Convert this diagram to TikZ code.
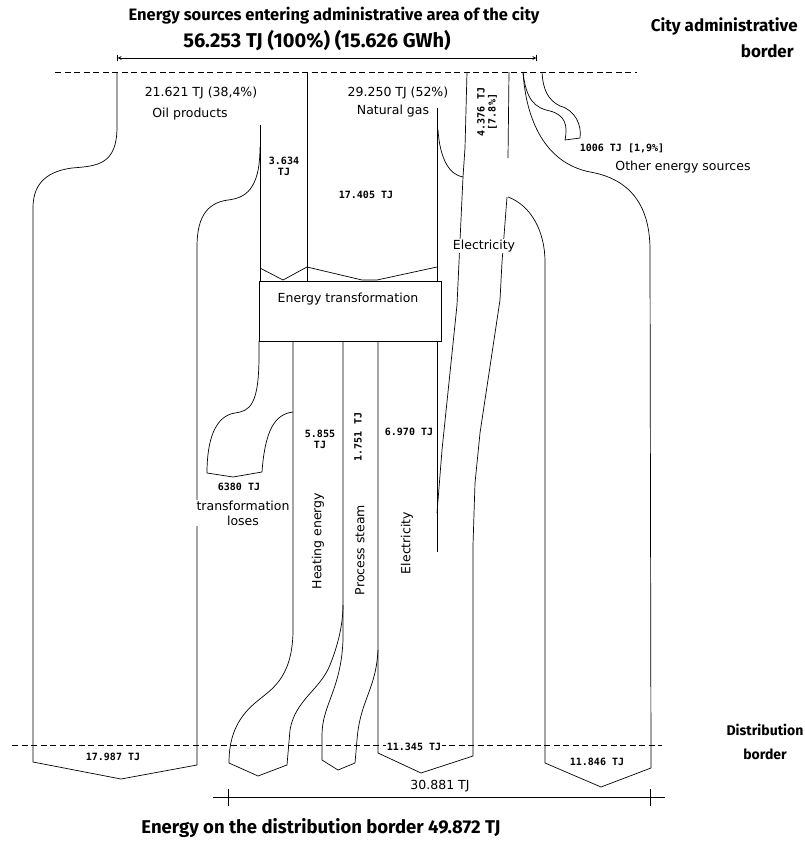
\documentclass[tikz,border=0pt]{standalone}
\usepackage{fontspec}
\setmainfont{DejaVu Sans}
\newfontfamily\titlefont{Fira Sans}
\newfontfamily\pixfont{DejaVu Sans Mono}
\usetikzlibrary{positioning}
\begin{document}
\begin{tikzpicture}[x=1pt, y=-1pt, line width=0.7pt]
        \tikzstyle{border}=[dash pattern=on 6pt off 3.5pt]
        \tikzstyle{heading}=[font=\titlefont\bfseries\fontsize{16.5}{19}\selectfont, align=center, inner sep=1pt]
        \tikzstyle{txt}=[font=\fontsize{12.5}{15}\selectfont, inner sep=1pt, align=center]
        \tikzstyle{val}=[font=\pixfont\bfseries\fontsize{10}{11}\selectfont, inner sep=1pt, align=center]

        \useasboundingbox (0,0) rectangle (805,841);

        \node (trafo)[draw, anchor=north west, minimum width=182pt, minimum height=60pt, inner sep=0pt] at (259,281) {};

        \draw[border] (55,72) -- (637,72);
        \draw[border] (12,745) -- (662,745);

        \draw (117,72) -- (117,127) .. controls (117,165) and (97,166) .. (72,168) .. controls (42,172) and (33,188) .. (33,208) -- (33,762) -- (121,779) -- (197,765) -- (197,247) .. controls (197,220) and (205,203) .. (228,200) .. controls (245,198) and (260,190) .. (260,147);
        \draw (260,125) -- (260,281);
        \draw (307,72) -- (307,281);
        \draw (260,268) -- (283,280) -- (307,267) -- (362,280) -- (377,280) -- (437,267);

        \draw (437,108) -- (437,281);
        \draw (438,130) .. controls (440,160) and (450,175) .. (463,177);

        \draw (467,72) -- (465,148) -- (463,177) -- (459,262) -- (457,305) -- (442,450) -- (437,513);
        \draw (509,72) -- (508,158);
        \draw (507,197) -- (502,262) -- (500,300) -- (480,433) -- (475,483) -- (473,545) -- (473,756);

        \draw (508,197) .. controls (530,205) and (545,230) .. (545,262) -- (545,763) -- (601,787) -- (651,768) -- (650,250) .. controls (650,200) and (625,178) .. (590,172) .. controls (545,163) and (526,120) .. (523,72);
        \draw (523,72) .. controls (526,100) and (535,108) .. (550,111) .. controls (565,115) and (568,125) .. (565,140) -- (580,138) .. controls (582,125) and (575,110) .. (560,106) .. controls (548,100) and (543,90) .. (542,72);

        \draw (259,341) -- (259,355) .. controls (259,405) and (250,411) .. (235,413) .. controls (215,416) and (207,440) .. (207,473) -- (233,477) -- (262,472) .. controls (265,430) and (275,414) .. (293,412);
        \draw (293,341) -- (293,632) .. controls (292,680) and (270,690) .. (255,703) .. controls (235,720) and (229,740) .. (229,763) -- (258,776) -- (287,765) -- (290,730) .. controls (295,700) and (320,690) .. (330,665) .. controls (340,640) and (343,620) .. (343,605);
        \draw (343,341) -- (343,640) .. controls (341,690) and (322,705) .. (322,735) -- (322,760) -- (338,770) -- (355,763) -- (357,740) .. controls (360,700) and (376,690) .. (378,650);
        \draw (378,341) -- (378,753) -- (421,773) -- (473,756);
        \draw (437,341) -- (437,552);

        \coordinate (srcl) at (117,58);
        \coordinate (srcr) at (537,58);
        \draw[|<->|, >=stealth] (srcl) -- (srcr);
        \coordinate (distl) at (213,797);
        \coordinate (distr) at (665,797);
        \draw (distl) -- (distr);
        \draw (228,789) -- (228,806);
        \draw (650,789) -- (650,806);

        \node (srctitle)[heading] at (334,16) {Energy sources entering administrative area of the city};
        \node (srctotal)[heading, font=\titlefont\bfseries\fontsize{20}{22}\selectfont] at (317,41) {56.253 TJ (100\%) (15.626 GWh)};
        \node (cityborder)[heading, anchor=east, align=right, font=\titlefont\bfseries\fontsize{17}{26}\selectfont] at (799,38) {City administrative\\border\hspace*{4pt}};
        \node (distborder)[heading, font=\titlefont\bfseries\fontsize{14}{24}\selectfont] at (765,742) {Distribution\\border};
        \node (disttotal)[heading, font=\titlefont\bfseries\fontsize{18.5}{21}\selectfont] at (321,828) {Energy on the distribution border 49.872 TJ};

        \node (oilval)[txt] at (201,93) {21.621 TJ (38,4\%)};
        \node (oil)[txt] at (190,114) {Oil products};
        \node (oiltrafo)[val] at (284,166) {3.634\\TJ};
        \node (gasval)[txt] at (398,93) {29.250 TJ (52\%)};
        \node (gas)[txt] at (393,111) {Natural gas};
        \node (gastrafo)[val] at (366,195) {17.405 TJ};
        \node (elval)[val, rotate=90] at (487,112) {4.376 TJ\\{[}7.8\%]};
        \node (otherval)[val] at (622,148) {1006 TJ [1,9\%]};
        \node (other)[txt] at (683,167) {Other energy sources};
        \node (elin)[txt, fill=white] at (484,246) {Electricity};
        \node (trafotext)[txt] at (348,299) {Energy transformation};

        \node (lossval)[val] at (239,487) {6380 TJ};
        \node (loss)[txt, fill=white] at (243,513) {transformation\\loses};
        \node (heatval)[val] at (320,439) {5.855\\TJ};
        \node (steamval)[val, rotate=90] at (358,437) {1.751 TJ};
        \node (elout)[val] at (409,432) {6.970 TJ};
        \node (heat)[txt, rotate=90] at (318,541) {Heating energy};
        \node (steam)[txt, rotate=90] at (360,550) {Process steam};
        \node (elec)[txt, rotate=90] at (407,543) {Electricity};

        \node (oildist)[val] at (113,757) {17.987 TJ};
        \node (eldist)[val, fill=white] at (414,747) {11.345 TJ};
        \node (rightdist)[val] at (597,762) {11.846 TJ};
        \node (distsum)[txt] at (440,786) {30.881 TJ};
    \end{tikzpicture}
\end{document}
